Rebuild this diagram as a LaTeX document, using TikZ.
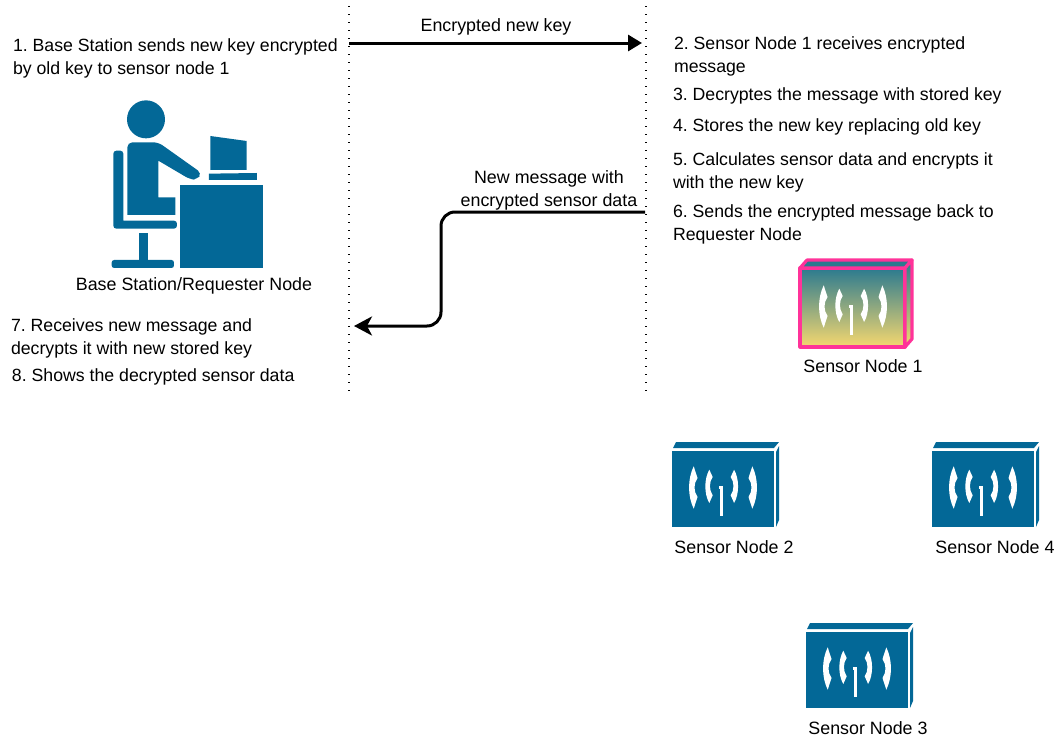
\documentclass[tikz,border=0pt]{standalone}
\usepackage{fontspec}
\setmainfont{Liberation Sans}
\frenchspacing
\usetikzlibrary{arrows.meta}
\definecolor{ciscoblue}{HTML}{036897}
\definecolor{pinkedge}{HTML}{FF3399}
\definecolor{gradtop}{HTML}{2B7A8F}
\definecolor{gradbot}{HTML}{F6D86F}
\newcommand{\waves}{%
  \fill[white] (21.7,15.3) .. controls (15.5,28) and (15.5,45) .. (21.7,57.7) -- (25.5,46) .. controls (21.5,40) and (21.5,33) .. (25.5,27) -- cycle;
  \fill[white] (37.3,18.7) .. controls (32,28) and (32,43) .. (37.3,52) -- (40.7,44.3) .. controls (37,39) and (37,31) .. (40.7,26) -- cycle;
  \fill[white] (80.3,15.3) .. controls (86.5,28) and (86.5,45) .. (80.3,57.7) -- (76.5,46) .. controls (80.5,40) and (80.5,33) .. (76.5,27) -- cycle;
  \fill[white] (62.1,18.7) .. controls (67.4,28) and (67.4,43) .. (62.1,52) -- (58.7,44.3) .. controls (62.4,39) and (62.4,31) .. (58.7,26) -- cycle;
  \fill[white] (48.2,36) rectangle (51.2,65.3);
  \fill[white] (47.2,34.5) rectangle (51.2,37.5);
}
\tikzset{
  every node/.style={inner sep=0pt,outer sep=0pt,font=\fontsize{17.85}{23}\selectfont},
  txt/.style={anchor=west,align=left,font=\fontsize{17.7}{23}\selectfont},
  captxt/.style={anchor=center,align=center},
  lifeline/.style={line width=1.4pt,dash pattern=on 1.4pt off 6.6pt},
  msg/.style={line width=3pt,draw=black},
  icon/.style={fill=ciscoblue},
  sensorblue/.pic={
    \fill[icon] (0,0) rectangle (102,76);
    \fill[icon] (4,-9) -- (107,-9) -- (102,-3) -- (1,-3) -- cycle;
    \fill[icon] (104,1) -- (107,-5) -- (107,69) -- (104,76) -- cycle;
    \waves
  },
  sensorpink/.pic={
    \shade[top color=gradtop,bottom color=gradbot,draw=pinkedge,line width=3.2pt,line join=round]
      (0,0) rectangle (105,79);
    \fill[gradtop,draw=pinkedge,line width=3.2pt,line join=round] (0,0) -- (7,-8) -- (112,-8) -- (105,0) -- cycle;
    \shade[top color=gradtop,bottom color=gradbot,draw=pinkedge,line width=3.2pt,line join=round] (105,0) -- (112,-8) -- (112,71) -- (105,79) -- cycle;
    \begin{scope}[shift={(2,2)}]\waves\end{scope}
  }
}
\begin{document}
\begin{tikzpicture}[x=1pt,y=-1pt]
\useasboundingbox (0,0) rectangle (1057,739);
% lifelines
\coordinate (l1top) at (349,6); \coordinate (l1bot) at (349,392);
\coordinate (l2top) at (646,6); \coordinate (l2bot) at (646,392);
\draw[lifeline] (l1top) -- (l1bot);
\draw[lifeline] (l2top) -- (l2bot);
% messages
\coordinate (m1a) at (349,43); \coordinate (m1b) at (642,43);
\draw[msg,-{Triangle[length=14pt,width=16pt]}] (m1a) -- (m1b);
\coordinate (m2a) at (645,212); \coordinate (m2c) at (441,212); \coordinate (m2d) at (441,326); \coordinate (m2b) at (354,326);
\draw[msg,rounded corners=14pt,-{Stealth[length=18pt,width=19pt,inset=5pt]}] (m2a) -- (m2c) -- (m2d) -- (m2b);
\node[captxt] (lblkey) at (496,26.5) {Encrypted new key};
\node[captxt] (lblmsg) at (549,190.5) {New message with\\encrypted sensor data};
% left text
\node[txt] (t1) at (13,58) {1. Base Station sends new key encrypted\\by old key to sensor node 1};
\node[txt] (t7) at (11,338) {7. Receives new message and\\decrypts it with new stored key};
\node[txt] (t8) at (12,377) {8. Shows the decrypted sensor data};
% right text
\node[txt] (t2) at (674,56) {2. Sensor Node 1 receives encrypted\\message};
\node[txt] (t3) at (673,95.5) {3. Decryptes the message with stored key};
\node[txt] (t4) at (673,126.5) {4. Stores the new key replacing old key};
\node[txt] (t5) at (673,172) {5. Calculates sensor data and encrypts it\\with the new key};
\node[txt] (t6) at (673,224.5) {6. Sends the encrypted message back to\\Requester Node};
% base station figure
\begin{scope}[shift={(90,90)},x=.3333pt,y=-.3333pt]
\fill[icon] (168,88) circle (57);
\fill[icon] (112,375) [rounded corners=5pt] -- (112,157) -- (205,157) -- (336,250) -- (320,269) -- (300,268) [sharp corners] -- (205,212) -- (205,322) -- (256,322) -- (256,375) -- cycle;
\fill[icon] (70,416) [rounded corners=3pt] -- (70,182) -- (100,182) [sharp corners] -- (100,392) [rounded corners=3pt] -- (261,392) -- (261,416) -- cycle;
\fill[icon] (148,430) rectangle (174,512);
\fill[icon,rounded corners=2.5pt] (65,510) rectangle (252,534);
\fill[icon] (270,284) rectangle (519,534);
\fill[icon] (361,138) -- (470,153) -- (470,240) -- (361,240) -- cycle;
\fill[icon] (357,251) -- (501,249) -- (501,270) -- (357,270) -- cycle;
\end{scope}
\node[captxt] (bs) at (194,286) {Base Station/Requester Node};
% sensors
\pic at (800,268) {sensorpink};
\node[captxt] (s1) at (863,366) {Sensor Node 1};
\pic at (672,451) {sensorblue};
\node[captxt] (s2) at (734,547) {Sensor Node 2};
\pic at (932,451) {sensorblue};
\node[captxt] (s4) at (995,547) {Sensor Node 4};
\pic at (806,632) {sensorblue};
\node[captxt] (s3) at (868,728) {Sensor Node 3};
\end{tikzpicture}
\end{document}
